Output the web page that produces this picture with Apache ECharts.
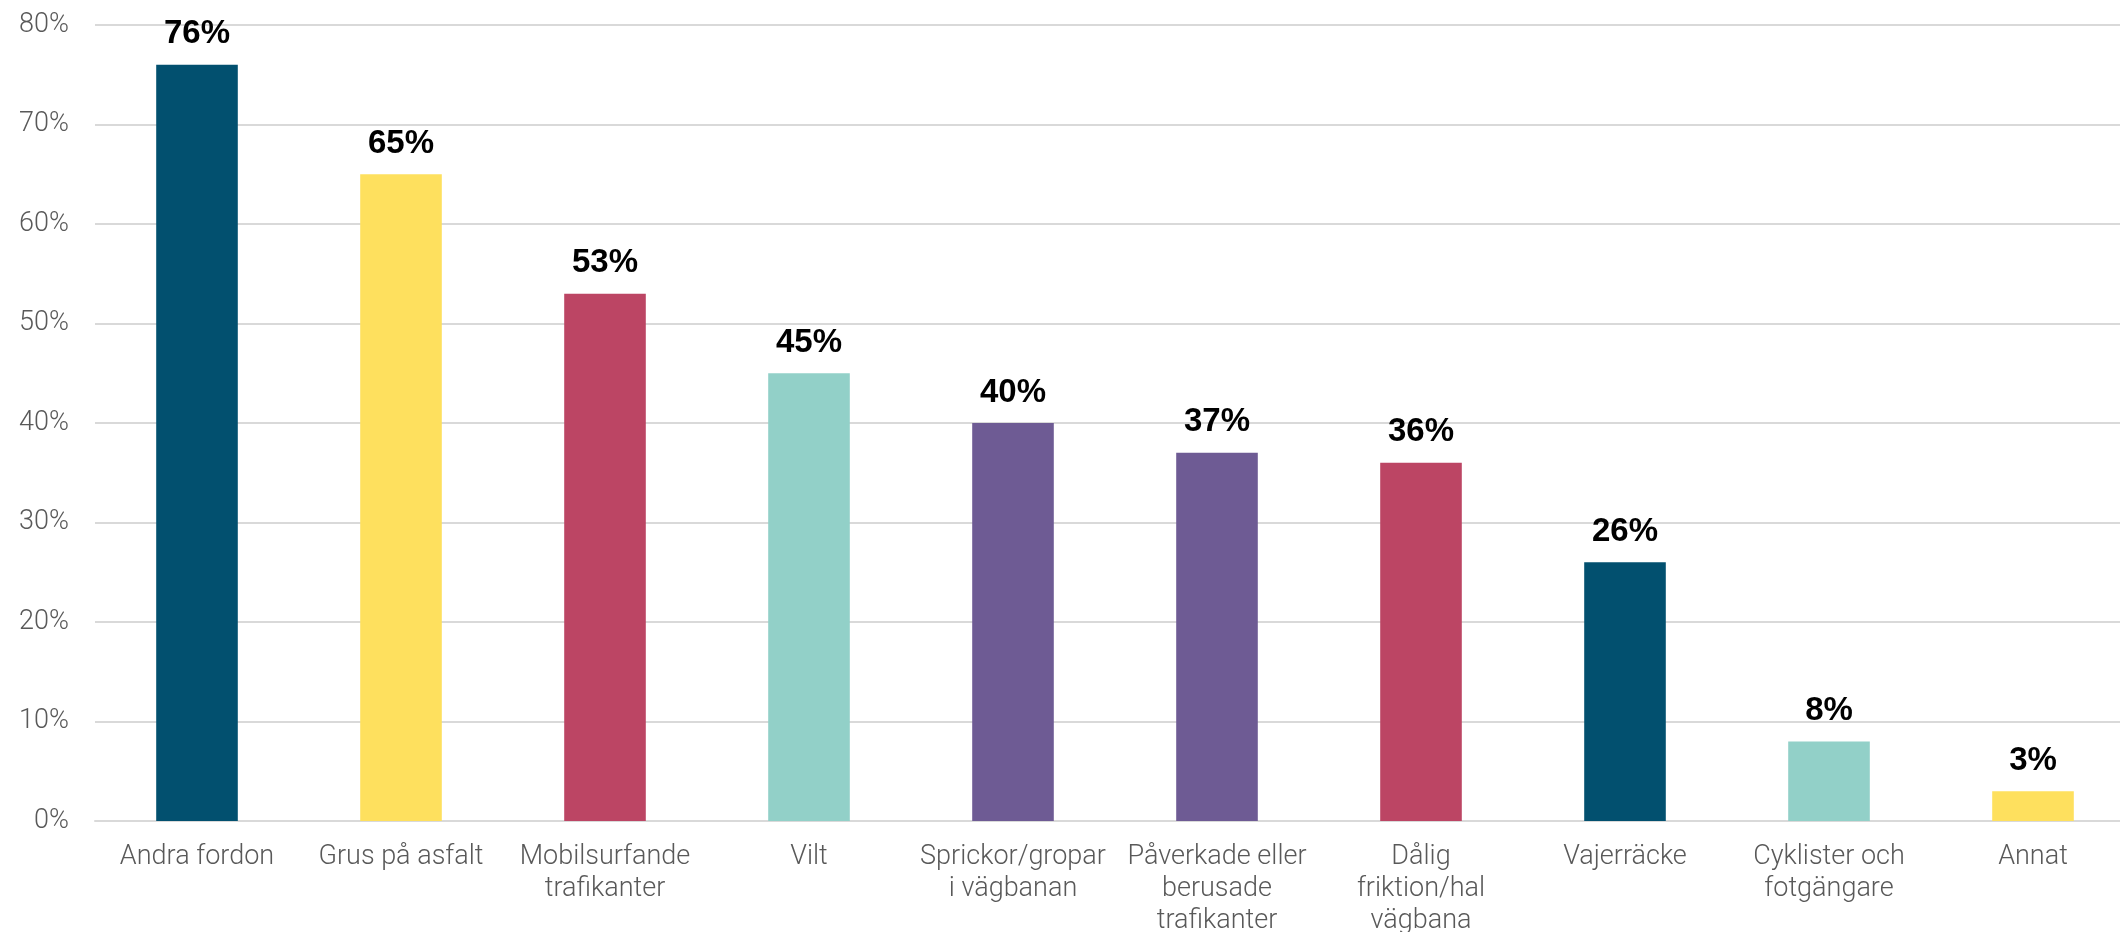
<!DOCTYPE html>
<html>
<head>
<meta charset="utf-8">
<script src="https://cdn.jsdelivr.net/npm/echarts@6/dist/echarts.min.js"></script>
<style>
html,body{margin:0;padding:0;background:#fff;}
#chart{width:2120px;height:932px;}
</style>
</head>
<body>
<div id="chart"></div>
<script>
var categories = [
  "Andra fordon",
  "Grus på asfalt",
  "Mobilsurfande\ntrafikanter",
  "Vilt",
  "Sprickor/gropar\ni vägbanan",
  "Påverkade eller\nberusade\ntrafikanter",
  "Dålig\nfriktion/hal\nvägbana",
  "Vajerräcke",
  "Cyklister och\nfotgängare",
  "Annat"
];
var values = [76, 65, 53, 45, 40, 37, 36, 26, 8, 3];
var barColors = ["#02506F", "#FEE05E", "#BC4564", "#92D0C8", "#6E5B94", "#6E5B94", "#BC4564", "#02506F", "#92D0C8", "#FEE05E"];
var yTicks = { min: 0, max: 80, interval: 10 };

var chart = echarts.init(document.getElementById('chart'), null, { renderer: 'canvas' });
chart.setOption({
  animation: false,
  grid: { left: 95, top: 25, width: 2040, height: 796, outerBoundsMode: 'none', containLabel: false },
  xAxis: {
    type: 'category',
    data: categories,
    axisTick: { show: false },
    axisLine: { show: true, lineStyle: { color: '#d9d9d9', width: 2 } },
    axisLabel: {
      interval: 0,
      margin: 20,
      color: '#595959',
      fontFamily: 'Roboto',
      fontWeight: 300,
      fontSize: 27,
      lineHeight: 32
    }
  },
  yAxis: {
    type: 'value',
    min: yTicks.min,
    max: yTicks.max,
    interval: yTicks.interval,
    axisLine: { show: false },
    axisTick: { show: false },
    splitLine: { lineStyle: { color: '#d9d9d9', width: 2 } },
    axisLabel: {
      margin: 26,
      color: '#595959',
      fontFamily: 'Roboto',
      fontWeight: 300,
      fontSize: 27,
      formatter: '{value}%'
    }
  },
  series: [{
    type: 'bar',
    barWidth: '40%',
    data: values.map(function (v, i) {
      return { value: v, itemStyle: { color: barColors[i] } };
    }),
    label: {
      show: true,
      position: 'top',
      distance: 14,
      color: '#000',
      fontFamily: 'Liberation Sans',
      fontWeight: 'bold',
      fontSize: 33,
      formatter: '{c}%'
    }
  }]
});
</script>
</body>
</html>
